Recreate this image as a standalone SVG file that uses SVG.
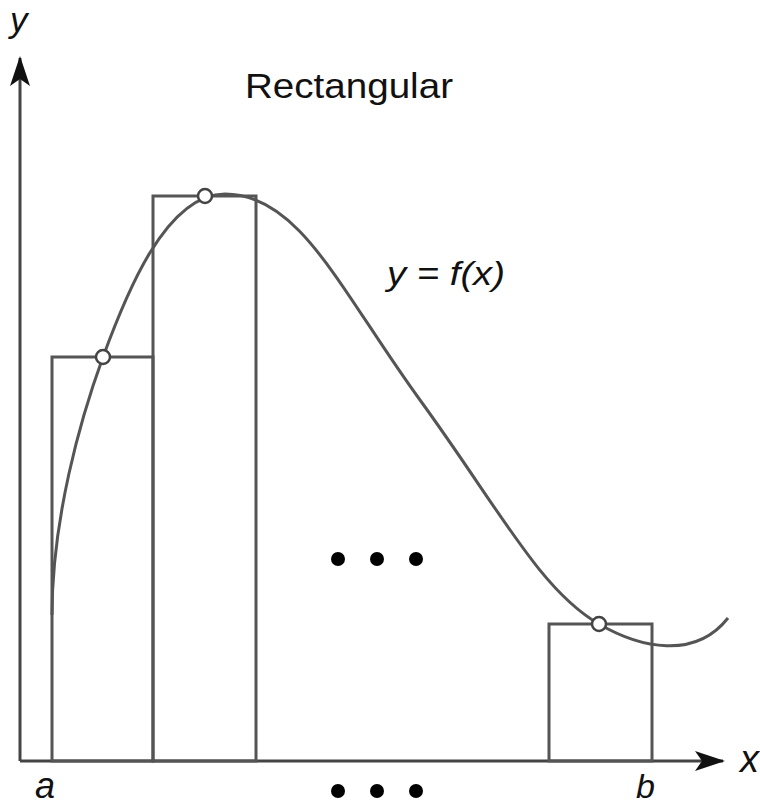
<svg xmlns="http://www.w3.org/2000/svg" width="760" height="806" viewBox="0 0 760 806">
<defs>
<style>
.ln{fill:none;stroke:#555;stroke-width:3}
.ax{fill:none;stroke:#444;stroke-width:3}
.pt{fill:#fff;stroke:#444;stroke-width:2.5}
.dot{fill:#000}
text{font-family:"Liberation Sans",Arial,sans-serif;fill:#111}
.it{font-style:italic}
</style>
<marker id="arr" viewBox="0 0 30 20" refX="28" refY="10" markerWidth="30" markerHeight="20" markerUnits="userSpaceOnUse" orient="auto">
<path d="M0,0 L30,10 L0,20 L7,10 Z" fill="#111"/>
</marker>
</defs>
<rect width="760" height="806" fill="#fff"/>
<g id="axes">
<line class="ax" x1="20" y1="761" x2="20" y2="58" marker-end="url(#arr)"/>
<line class="ax" x1="20" y1="761" x2="723" y2="761" marker-end="url(#arr)"/>
</g>
<g id="rects">
<rect class="ln" x="52" y="357" width="101" height="404"/>
<rect class="ln" x="153" y="196" width="103" height="565"/>
<rect class="ln" x="549" y="624" width="103" height="137"/>
</g>
<g id="curve">
<path class="ln" d="M52,615 C52,520 80,420 103,357 C125,297 165,194 225,194 C300,194 340,290 420,400 C500,510 540,590 599,624 C640,648 695,660 728,618"/>
</g>
<g id="points">
<circle class="pt" cx="103" cy="357" r="7"/>
<circle class="pt" cx="205" cy="196" r="7"/>
<circle class="pt" cx="599" cy="624" r="7"/>
</g>
<g id="dots">
<circle class="dot" cx="338" cy="559" r="7"/>
<circle class="dot" cx="377" cy="559" r="7"/>
<circle class="dot" cx="416" cy="559" r="7"/>
<circle class="dot" cx="338" cy="791" r="7"/>
<circle class="dot" cx="377" cy="791" r="7"/>
<circle class="dot" cx="416" cy="791" r="7"/>
</g>
<g id="labels">
<text class="it" x="10" y="32" font-size="35">y</text>
<text x="245" y="98" font-size="35" textLength="208" lengthAdjust="spacingAndGlyphs">Rectangular</text>
<text class="it" x="387" y="285" font-size="34" textLength="118" lengthAdjust="spacingAndGlyphs">y = f(x)</text>
<text class="it" x="35" y="798" font-size="36">a</text>
<text class="it" x="636" y="798" font-size="34">b</text>
<text class="it" x="740" y="772" font-size="38">x</text>
</g>
</svg>
